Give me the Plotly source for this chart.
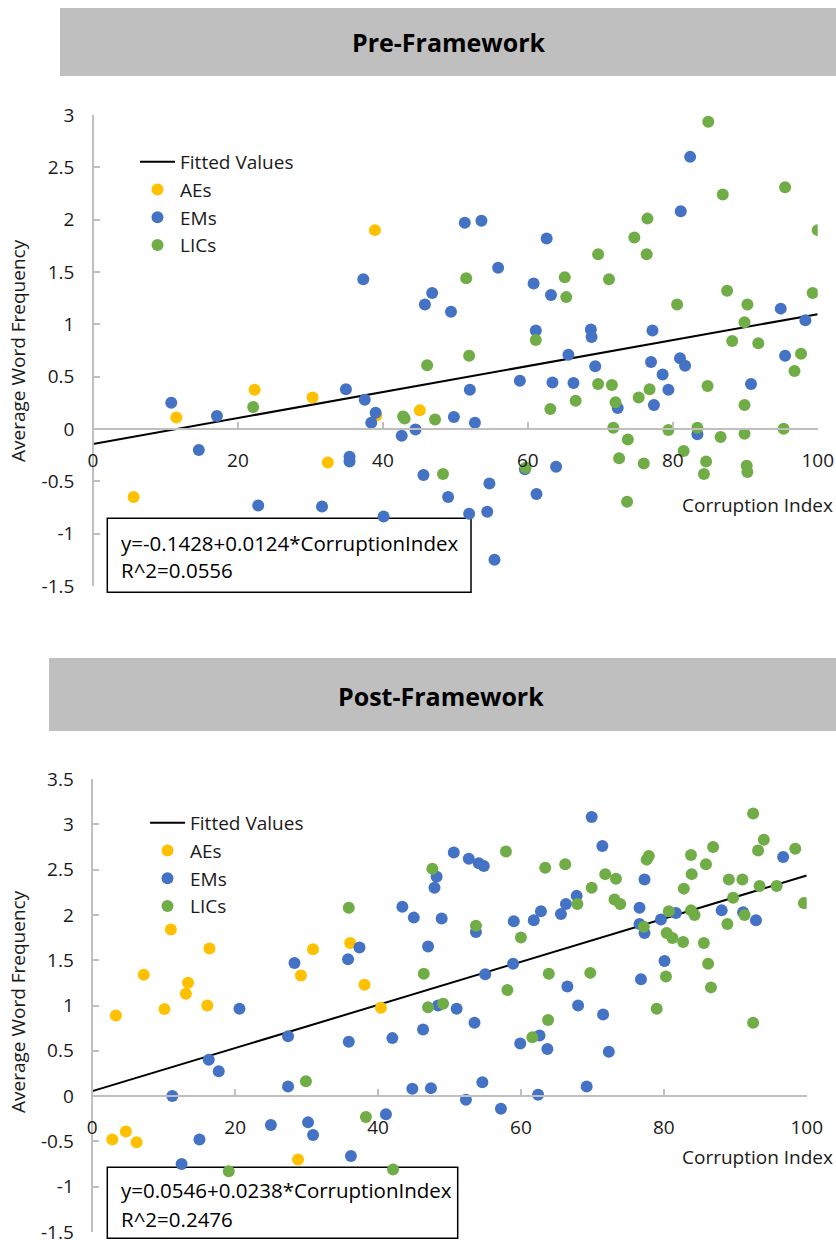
import plotly.graph_objects as go

# ---------------- data ----------------
pre_ae_x = [38.9, 45.1, 11.5, 22.3, 30.3, 39.1, 32.4, 5.6]
pre_ae_y = [1.90, 0.18, 0.11, 0.375, 0.30, 0.13, -0.32, -0.65]

pre_em_x = [37.3, 82.4, 81.1, 51.3, 53.6, 62.6, 55.9, 46.8, 45.8, 49.4, 60.8, 63.2, 94.9, 98.3,
            61.1, 68.7, 68.8, 77.2, 95.5, 65.6, 77.0, 81.0, 81.7, 69.3, 78.6, 79.4, 90.8, 58.9,
            63.4, 66.3, 52.0, 72.4, 77.4, 49.8, 52.7, 44.5, 42.6, 83.4, 59.6, 63.9, 45.6, 54.7,
            49.0, 61.2, 51.9, 54.4, 55.4, 10.8, 17.1, 14.6, 34.9, 37.5, 39.0, 38.4, 35.4, 35.4,
            22.8, 31.6, 40.1]
pre_em_y = [1.43, 2.60, 2.08, 1.97, 1.99, 1.82, 1.54, 1.30, 1.19, 1.12, 1.39, 1.28, 1.15, 1.04,
            0.94, 0.95, 0.88, 0.94, 0.70, 0.71, 0.64, 0.675, 0.605, 0.60, 0.52, 0.375, 0.43, 0.46,
            0.445, 0.44, 0.375, 0.20, 0.23, 0.115, 0.06, -0.005, -0.065, -0.05, -0.385, -0.36, -0.44, -0.52,
            -0.65, -0.62, -0.81, -0.79, -1.25, 0.25, 0.125, -0.20, 0.38, 0.28, 0.155, 0.06, -0.265, -0.31,
            -0.73, -0.74, -0.835]

pre_lic_x = [84.9, 95.5, 86.9, 76.5, 100.0, 74.7, 69.7, 76.4, 51.5, 65.1, 65.3, 71.2, 87.5, 99.3,
             80.6, 90.3, 89.9, 61.1, 88.2, 91.8, 97.7, 51.9, 46.1, 96.8, 84.8, 69.7, 71.6, 76.8,
             66.6, 75.3, 72.1, 89.9, 63.1, 42.8, 43.0, 47.2, 22.1, 71.8, 79.4, 83.4, 86.6, 89.9,
             95.3, 73.8, 81.5, 72.6, 76.0, 84.6, 84.3, 90.2, 90.3, 59.7, 48.3, 73.7]
pre_lic_y = [2.935, 2.31, 2.24, 2.01, 1.90, 1.83, 1.67, 1.67, 1.44, 1.45, 1.26, 1.43, 1.32, 1.30,
             1.19, 1.19, 1.02, 0.85, 0.84, 0.82, 0.72, 0.70, 0.61, 0.555, 0.41, 0.43, 0.42, 0.38,
             0.27, 0.30, 0.255, 0.23, 0.19, 0.12, 0.10, 0.09, 0.21, 0.012, -0.01, 0.012, -0.077, -0.045,
             0.003, -0.10, -0.21, -0.28, -0.33, -0.31, -0.43, -0.35, -0.41, -0.37, -0.43, -0.695]

post_ae_x = [11.0, 16.4, 30.9, 36.1, 7.2, 29.2, 13.4, 13.1, 38.1, 16.1, 10.1, 40.4, 3.3, 2.8, 4.7, 6.2, 28.8]
post_ae_y = [1.84, 1.63, 1.62, 1.69, 1.34, 1.33, 1.25, 1.13, 1.23, 1.00, 0.96, 0.975, 0.89, -0.48, -0.39, -0.51, -0.70]

post_em_x = [43.4, 45.0, 37.4, 35.8, 28.3, 20.6, 27.4, 35.9, 42.0, 16.3, 17.7, 27.4, 11.2, 44.8,
             41.1, 25.0, 30.2, 30.9, 15.0, 36.2, 12.5,
             69.9, 71.4, 96.7, 50.6, 52.7, 54.1, 54.8, 48.2, 47.9, 77.3, 67.8, 66.3, 65.6, 76.6,
             48.9, 59.0, 61.8, 62.8, 76.6, 77.3, 79.6, 81.7, 88.1, 91.1, 92.9, 80.1, 76.8, 53.7,
             47.0, 55.0, 58.9, 66.5, 48.4, 51.0, 68.0, 53.5, 46.3, 71.5, 62.6, 59.9, 63.7, 72.3,
             47.4, 54.6, 69.2, 52.3, 62.4, 57.2]
post_em_y = [2.09, 1.97, 1.64, 1.51, 1.47, 0.965, 0.66, 0.60, 0.64, 0.40, 0.275, 0.107, 0.00, 0.08,
             -0.20, -0.32, -0.29, -0.43, -0.48, -0.66, -0.75,
             3.08, 2.76, 2.64, 2.69, 2.62, 2.57, 2.54, 2.42, 2.30, 2.39, 2.21, 2.12, 2.01, 2.08,
             1.96, 1.93, 1.94, 2.04, 1.90, 1.80, 1.95, 2.02, 2.05, 2.03, 1.94, 1.49, 1.29, 1.81,
             1.65, 1.345, 1.46, 1.21, 1.00, 0.965, 1.00, 0.81, 0.735, 0.90, 0.67, 0.58, 0.52, 0.49,
             0.088, 0.154, 0.107, -0.04, 0.015, -0.14]

post_lic_x = [35.9, 29.9, 38.3, 19.1, 42.1,
              92.5, 94.0, 86.9, 93.2, 98.4, 57.9, 83.8, 77.9, 77.6, 47.6, 63.4, 66.2, 71.8, 73.3,
              83.9, 85.9, 89.1, 91.0, 82.8, 69.9, 93.4, 95.8, 89.7, 99.6, 67.9, 73.1, 73.9, 77.2,
              80.7, 83.8, 84.3, 91.3, 88.9, 80.4, 81.2, 82.7, 85.6, 86.2, 86.6, 80.3, 53.7, 60.0,
              46.4, 63.9, 69.7, 58.1, 47.0, 49.1, 79.0, 92.5, 63.8, 61.6]
post_lic_y = [2.08, 0.165, -0.23, -0.83, -0.81,
              3.12, 2.83, 2.75, 2.71, 2.73, 2.70, 2.66, 2.65, 2.61, 2.51, 2.52, 2.56, 2.45, 2.40,
              2.45, 2.56, 2.39, 2.39, 2.29, 2.30, 2.32, 2.32, 2.19, 2.13, 2.12, 2.17, 2.12, 1.87,
              2.04, 2.05, 2.00, 2.00, 1.90, 1.80, 1.745, 1.70, 1.69, 1.46, 1.20, 1.32, 1.88, 1.75,
              1.35, 1.35, 1.36, 1.17, 0.98, 1.02, 0.965, 0.81, 0.84, 0.65]

# fitted regressions (coefficients printed on the chart)
pre_fit_b0, pre_fit_b1 = -0.1428, 0.0124
post_fit_b0, post_fit_b1 = 0.0546, 0.0238
fit_x = [0, 100]

x_tickvals = [0, 20, 40, 60, 80, 100]
x_ticktext = ["0", "20", "40", "60", "80", "100"]
pre_y_tickvals = [-1.5, -1, -0.5, 0, 0.5, 1, 1.5, 2, 2.5, 3]
pre_y_ticktext = ["-1.5", "-1", "-0.5", "0", "0.5", "1", "1.5", "2", "2.5", "3"]
post_y_tickvals = [-1.5, -1, -0.5, 0, 0.5, 1, 1.5, 2, 2.5, 3, 3.5]
post_y_ticktext = ["-1.5", "-1", "-0.5", "0", "0.5", "1", "1.5", "2", "2.5", "3", "3.5"]

# ---------------- styling ----------------
W, H = 836, 1240
FONT = "Open Sans"
FS = 19
TXT = "#1a1a1a"
C_AE, C_EM, C_LIC = "#FFC000", "#4472C4", "#70AD47"
AXC = "#BFBFBF"
MS = 12


def px(x):
    return x / W


def py(y):
    return 1 - y / H


fig = go.Figure()

panels = [
    dict(xa="x", ya="y", leg="legend", b0=pre_fit_b0, b1=pre_fit_b1,
         ae=(pre_ae_x, pre_ae_y), em=(pre_em_x, pre_em_y), lic=(pre_lic_x, pre_lic_y)),
    dict(xa="x2", ya="y2", leg="legend2", b0=post_fit_b0, b1=post_fit_b1,
         ae=(post_ae_x, post_ae_y), em=(post_em_x, post_em_y), lic=(post_lic_x, post_lic_y)),
]

for p in panels:
    fy = [p["b0"] + p["b1"] * v for v in fit_x]
    fig.add_trace(go.Scatter(x=fit_x, y=fy, mode="lines", name="Fitted Values",
                             line=dict(color="black", width=2), xaxis=p["xa"], yaxis=p["ya"],
                             legend=p["leg"], legendgroup=p["leg"] + "fit"))
    for key, nm, col in [("ae", "AEs", C_AE), ("em", "EMs", C_EM), ("lic", "LICs", C_LIC)]:
        xs, ys = p[key]
        fig.add_trace(go.Scatter(x=xs, y=ys, mode="markers", name=nm,
                                 marker=dict(color=col, size=MS, line=dict(width=0)),
                                 xaxis=p["xa"], yaxis=p["ya"], legend=p["leg"],
                                 legendgroup=p["leg"] + key))

axis_common = dict(showgrid=False, zeroline=False, showline=True, linecolor=AXC, linewidth=1.5,
                   ticks="inside", tickcolor=AXC, tickwidth=1.5, ticklen=6, automargin=False,
                   ticklabeloverflow="allow",
                   tickfont=dict(family=FONT, size=FS, color=TXT), anchor="free")

leg_common = dict(xanchor="left", yanchor="top", bgcolor="rgba(0,0,0,0)",
                  font=dict(family=FONT, size=FS, color=TXT), tracegroupgap=3,
                  traceorder="normal", itemwidth=35, borderwidth=0)

fig.update_layout(
    width=W, height=H, margin=dict(l=0, r=0, t=0, b=0, pad=0, autoexpand=False),
    paper_bgcolor="white", plot_bgcolor="white",
    font=dict(family=FONT, size=FS, color=TXT),
    xaxis=dict(domain=[px(93), px(817.7)], range=[0, 100], position=py(429),
               tickvals=x_tickvals, ticktext=x_ticktext, ticklabelstandoff=14, **axis_common),
    yaxis=dict(domain=[py(586), py(115)], range=[-1.5, 3], position=px(93),
               tickvals=pre_y_tickvals, ticktext=pre_y_ticktext, ticklabelstandoff=14, **axis_common),
    xaxis2=dict(domain=[px(92.3), px(806.7)], range=[0, 100], position=py(1096),
                tickvals=x_tickvals, ticktext=x_ticktext, ticklabelstandoff=14, **axis_common),
    yaxis2=dict(domain=[py(1232), py(779)], range=[-1.5, 3.5], position=px(92.3),
                tickvals=post_y_tickvals, ticktext=post_y_ticktext, ticklabelstandoff=14, **axis_common),
    legend=dict(x=px(135), y=py(143), **leg_common),
    legend2=dict(x=px(145), y=py(804), **leg_common),
    showlegend=True,
)

shapes = [
    dict(type="rect", xref="paper", yref="paper", x0=px(60), x1=1, y0=py(76), y1=py(8),
         fillcolor="#BFBFBF", line=dict(width=0), layer="below"),
    dict(type="rect", xref="paper", yref="paper", x0=px(49), x1=1, y0=py(731), y1=py(658),
         fillcolor="#BFBFBF", line=dict(width=0), layer="below"),
    dict(type="rect", xref="paper", yref="paper", x0=px(107.3), x1=px(471), y0=py(592.3), y1=py(518.3),
         fillcolor="white", line=dict(color="black", width=1.5), layer="below"),
    dict(type="rect", xref="paper", yref="paper", x0=px(107.3), x1=px(457.7), y0=py(1238.3), y1=py(1167.3),
         fillcolor="white", line=dict(color="black", width=1.5), layer="below"),
]

ann = []
tf = dict(family=FONT, size=FS, color=TXT)


def add_text(text, x, y, xanchor="center", yanchor="middle", font=tf, angle=0):
    ann.append(dict(text=text, x=px(x), y=py(y), xref="paper", yref="paper",
                    xanchor=xanchor, yanchor=yanchor, textangle=angle,
                    showarrow=False, font=font))


tfont = dict(family=FONT, size=25, color="black")
add_text("<b>Pre-Framework</b>", 449, 42, font=tfont)
add_text("<b>Post-Framework</b>", 441, 696, font=tfont)
for yc in (351, 1002):
    add_text("Average Word Frequency", 18, yc, angle=-90)
for yc in (505, 1157):
    add_text("Corruption Index", 835, yc, xanchor="right")
efont = dict(family=FONT, size=20.5, color="black")
eq = [("y=-0.1428+0.0124*CorruptionIndex", "R^2=0.0556", 543, 570),
      ("y=0.0546+0.0238*CorruptionIndex", "R^2=0.2476", 1190, 1219)]
for l1, l2, y1, y2 in eq:
    add_text(l1, 119, y1, xanchor="left", font=efont)
    add_text(l2, 119, y2, xanchor="left", font=efont)

fig.update_layout(shapes=shapes, annotations=ann)
fig.write_html("out.html", config={"displayModeBar": False},
               post_script="document.body.style.margin='0';document.body.style.overflow='hidden';")
